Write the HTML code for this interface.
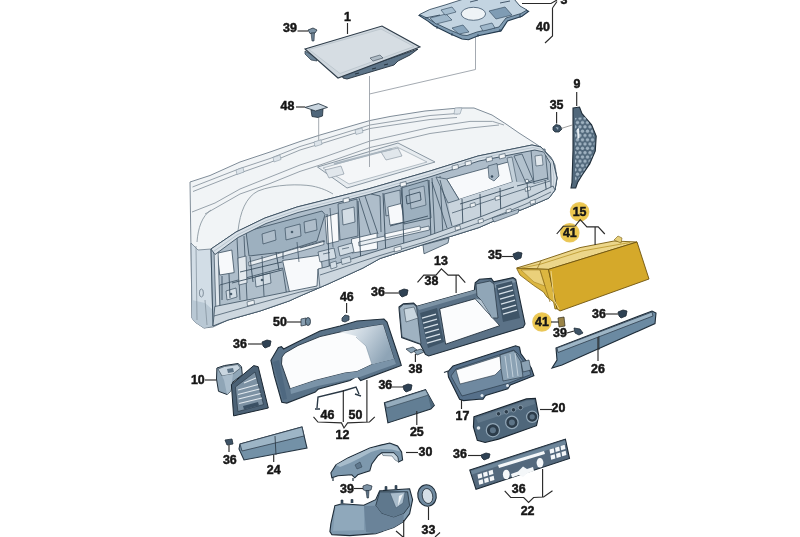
<!DOCTYPE html>
<html><head><meta charset="utf-8">
<style>
html,body{margin:0;padding:0;background:#fff;width:800px;height:537px;overflow:hidden}
svg{display:block;will-change:transform}
#wrap{width:800px;height:537px}
text{font-family:"Liberation Sans",sans-serif;font-weight:bold;font-size:12.4px;fill:#161616;stroke:#161616;stroke-width:0.5px;text-anchor:middle}
.ld{stroke:#2a2a2a;stroke-width:1.15;fill:none}
.dl{stroke:#9aa0a8;stroke-width:0.9;fill:none}
.dash{fill:#eef2f5;stroke:#8c98a2;stroke-width:1}
.dl2{fill:none;stroke:#8d99a3;stroke-width:0.9}
.int{fill:#c7d3dd;stroke:#5e7282;stroke-width:0.9}
.intl{fill:#d6dfe7;stroke:#6a7e8e;stroke-width:0.8}
.hole{fill:#f6f8fa;stroke:#5e7282;stroke-width:0.8}
.dk{fill:#7391a7;stroke:#263644;stroke-width:1.1}
.dkl{fill:#9db5c6;stroke:#2e3e4c;stroke-width:0.8}
.dkd{fill:#54708a;stroke:#22313e;stroke-width:0.8}
.wh{fill:#fbfcfd;stroke:#2e3e4c;stroke-width:0.9}
.yl{fill:#d7ab2a;stroke:#7a5e10;stroke-width:0.9}
.yll{fill:#f1e3a6;stroke:#8a7020;stroke-width:0.8}
.circ{fill:url(#cg)}
</style></head><body><div id="wrap">
<svg width="800" height="537" viewBox="0 0 800 537">
<defs><radialGradient id="cg"><stop offset="0" stop-color="#f3d468"/><stop offset="0.75" stop-color="#ecc64a"/><stop offset="1" stop-color="#e6c04a" stop-opacity="0.85"/></radialGradient></defs>

<!-- ================= DASHBOARD ================= -->
<g id="dash">
  <!-- main body -->
  <path d="M190,182 L210,175.5 L240,162 L270,152 L300,141.5 L320,135 L370,120.5 L390,116.5 L425,111 L459,108 L474,108 L492,115 L506,124 L519,133 L533,142 L542,148 L551,157 L555,165 L557,178 L555,190 L549,198 L527,207.5 L503,217 L479,227.5 L452,236 L425,244 L380,258.5 L363,268 L328,284 L300,296 L289,301 L260,311 L228,320 L213,327 L204,328 L195,322 L192,318 Z" fill="#f1f4f6" stroke="#7f8c98" stroke-width="1"/>
  <!-- rim band lines -->
  <path class="dl2" d="M192.5,187 L240,168.5 L270,158.5 L300,146.5 L320,140.5 L370,125 L430,115.5 L457,113.5"/>
  <path class="dl2" d="M193,191.5 L240,173 L270,162.5 L300,150 L320,144 L370,128.5 L430,119.5 L457,117.5"/>
  <path class="dl2" d="M192,212 L215,203 L240,189 L270,177 L300,165 L320,158.5 L370,141 L390,136.5 L430,127.4 L470,121.4 L492.5,121.4 L504,125"/>
  <path class="dl2" d="M205,214 L240,194 L270,183.5 L300,171.4 L320,165 L370,147.5 L390,143 L430,133.5 L470,128 L499,125"/>
  <path d="M456.5,108 L457,114.6" stroke="#8a96a0" stroke-width="0.8"/>
  <g fill="#dde4ea" stroke="#8a98a4" stroke-width="0.6">
    <path d="M236,170 L243,167.5 L244,172 L237,174.5 Z"/>
    <path d="M273,157.5 L280,155 L281,159.5 L274,162 Z"/>
    <path d="M314,142 L321,139.8 L322,144.3 L315,146.5 Z"/>
    <path d="M355,130 L362,128 L363,132.5 L356,134.5 Z"/>
    <path d="M455,108 L462,108 L460,114 L454,114 Z"/>
  </g>
  <!-- hood curve -->
  <path d="M238,231 C240,212 246,197 258,191 C275,184 300,184 312,186 C322,188 328,191 333,194" fill="none" stroke="#8c98a2" stroke-width="0.9"/>
  <path d="M197,242 C198,228 202,216 211,210" fill="none" stroke="#8c98a2" stroke-width="0.9"/>
  <!-- left end face -->
  <path d="M191,243 L198,250 L211,249 L213,326 L204,328 L195,322 L192,318 Z" fill="#d2dde6" stroke="#6e7e8c" stroke-width="0.8"/>
  <path d="M192,300 L205,303 L213,310 L213,326 L204,328 L195,322 L192,318 Z" fill="#b9c8d4" stroke="none"/>
  <path d="M196,246 L197,320 M205,300 L207,325" stroke="#7e8c98" stroke-width="0.7" fill="none"/>
  <ellipse cx="201.4" cy="293" rx="2" ry="4" fill="none" stroke="#6e7e8c" stroke-width="0.8"/>
  <!-- interior base -->
  <path d="M211,249 L236,232 L265,218 L297,207 L321,201 L368,189 L430,171 L478,156 L532,145 L541,147 L553,161 L557,178 L555,190 L549,198 L527,207.5 L503,217 L479,227.5 L452,236 L425,244 L380,258.5 L363,268 L328,284 L300,296 L289,301 L260,311 L228,320 L213,326 Z" fill="#aebdca" stroke="#3e5262" stroke-width="1"/>

  <!-- LEFT interior -->
  <path d="M246,231.5 L322,211 L325,214.5 L317,241 L283,252 L249,256 Z" fill="#9db0bf" stroke="#3b4f60" stroke-width="0.8"/>
  <path d="M262,234 L275,230 L276,240 L263,244 Z M285,228 L300,224 L301,236 L286,240 Z M304,222 L316,219 L317,230 L305,233 Z" fill="#aebdca" stroke="#3b4f60" stroke-width="0.7"/>
  <circle cx="292" cy="232" r="1.3" fill="#4a5e6e"/>
  <path d="M248.7,262 L323.7,240.5 L324,244.5 L249,266 Z" fill="#e9eef2" stroke="#3b4f60" stroke-width="0.7"/>
  <path d="M217.3,253.2 L231.8,250 L234.2,272.6 L219.7,275 Z" fill="#f7f9fb" stroke="#3b4f60" stroke-width="0.8"/>
  <path d="M282.6,260.5 L321,255 L323.7,284.7 L290,294.4 Z" fill="#f7f9fb" stroke="#3b4f60" stroke-width="0.8"/>
  <path d="M219.7,285 L282.6,268 L287,296.8 L219.7,306.5 Z" fill="#b0bfcb" stroke="#3b4f60" stroke-width="0.8"/>
  <path d="M226,291 L236,288 L237,297 L227,300 Z M255,277 L270,273 L271,283 L256,287 Z" fill="#d3dde5" stroke="#3b4f60" stroke-width="0.7"/>
  <circle cx="231" cy="294" r="1.3" fill="#4a5e6e"/><circle cx="262" cy="280" r="1.3" fill="#4a5e6e"/>
  <path d="M237,238 L240,300 M244,236 L247,300 M262,256 L264,296" fill="none" stroke="#3b4f60" stroke-width="0.8"/>
  <path d="M238,258 L246,256 L247,283 L239,285 Z" fill="#e3e9ee" stroke="#3b4f60" stroke-width="0.7"/>
  <path d="M214,250 L218,249 L220,313 L216,314 Z" fill="#dfe6ec" stroke="#3b4f60" stroke-width="0.7"/>

  <!-- CENTER interior -->
  <path d="M325,217 L338,213 L339,241 L327,244 Z" fill="#f7f9fb" stroke="#3b4f60" stroke-width="0.75"/>
  <path d="M338,204 L357,199 L358,236 L340,240 Z" fill="#aabac7" stroke="#3b4f60" stroke-width="0.75"/>
  <path d="M342,210 L354,207 L355,222 L343,225 Z" fill="#d3dde5" stroke="#3b4f60" stroke-width="0.7"/>
  <path d="M359,198 L371,236 M365,196 L378,234 M371,194 L380,196 L381,232" fill="none" stroke="#3b4f60" stroke-width="0.8"/>
  <path d="M351.5,239 L377,233 L377.5,249 L352,253 Z" fill="#f7f9fb" stroke="#3b4f60" stroke-width="0.75"/>
  <path d="M384,194 L400,190 L401,212 L386,216 Z" fill="#b3c2ce" stroke="#3b4f60" stroke-width="0.75"/>
  <path d="M387.8,207 L401,203.5 L404.7,222 L390,225 Z" fill="#f7f9fb" stroke="#3b4f60" stroke-width="0.75"/>
  <path d="M401,188 L428,180 L431,218 L404,224 Z" fill="#9db0bf" stroke="#3b4f60" stroke-width="0.8"/>
  <path d="M409,190 L424,186 L426,205 L411,209 Z" fill="#aebdca" stroke="#3b4f60" stroke-width="0.6"/>
  <path d="M358.7,242 L429,226 L429.5,230 L359,246 Z" fill="#e9eef2" stroke="#3b4f60" stroke-width="0.7"/>
  <path d="M384.5,234 L420,226 L420.5,230 L385,238 Z" fill="#f7f9fb" stroke="#3b4f60" stroke-width="0.6"/>
  <path d="M318,252 L334,248 L336,258 L320,262 Z M338,247 L352,243 L354,252 L340,256 Z" fill="#d3dde5" stroke="#3b4f60" stroke-width="0.7"/>
  <path d="M323,254 L330,252.5 M342,249 L349,247.5 M297,242 L299,262 M330,208 L333,247" fill="none" stroke="#3b4f60" stroke-width="0.7"/>
  <path d="M432,178 L435,238 M440,176 L443,236" fill="none" stroke="#3b4f60" stroke-width="0.8"/>

  <!-- RIGHT interior -->
  <path d="M446.6,179 L510,161.5 L514,181.5 L459,199.5 Z" fill="#f7f9fb" stroke="#3b4f60" stroke-width="0.8"/>
  <path d="M488,166 L497,163.5 L499,176 L494,181 L489,178 Z" fill="#aabac7" stroke="#3b4f60" stroke-width="0.7"/>
  <circle cx="492" cy="176.5" r="1.3" fill="#3b4f60"/>
  <path d="M514,156 L522,154 L533,180 L526,183 Z" fill="#b3c2ce" stroke="#3b4f60" stroke-width="0.75"/>
  <path d="M507,158 L512,157 L517,183 L513,185 Z" fill="#c3d0da" stroke="#3b4f60" stroke-width="0.6"/>
  <path d="M531,150 L545,149 L548,180 L534,184 Z" fill="#aebdca" stroke="#3b4f60" stroke-width="0.75"/>
  <path d="M535,156 L542,155 L543,165 L536,166 Z" fill="#e3e9ee" stroke="#3b4f60" stroke-width="0.6"/>
  <circle cx="527" cy="181" r="1.8" fill="#eef2f5" stroke="#3b4f60" stroke-width="0.7"/>
  <path d="M448,203 L459,199.5 L514,181.5 L534,184 L548,180 L553,186 L480,217 L452,226 Z" fill="#c9d4dd" stroke="none"/>
  <path d="M452,213 L515,192 L550,181" fill="none" stroke="#3b4f60" stroke-width="0.7"/>
  <g fill="#eef2f5" stroke="#3b4f60" stroke-width="0.6"><path d="M470,204 L475,202.5 L475.5,206 L470.5,207.5 Z"/><path d="M495,197 L500,195.5 L500.5,199 L495.5,200.5 Z"/><path d="M525,188 L530,186.5 L530.5,190 L525.5,191.5 Z"/></g>
  <path d="M436,177 L446.6,179 L459,199.5 L448,203 Z" fill="#b3c2ce" stroke="#3b4f60" stroke-width="0.7"/>
  <path d="M432,182 L447,228 M440,180 L452,226" fill="none" stroke="#3b4f60" stroke-width="0.8"/>

  <!-- more structure strokes -->
  <g fill="none" stroke="#3b4f60" stroke-width="0.9">
    <path d="M222,276 L222,300 M229,274 L230,298"/>
    <path d="M250,257 L253,282 M276,252 L279,270 M283,252 L283,259"/>
    <path d="M327,214 L330,282 M358,201 L361,266 M383,193 L386,256 M402,188 L404,250 M429,180 L431,240"/>
    <path d="M462,199 L463,230 M480,194 L481,224 M500,188 L501,218 M527,183 L529,204 M545,180 L547,196"/>
    <path d="M240,272 L282,262 M232,283 L282,270 M300,248 L325,241 M390,226 L428,216 M460,204 L514,187 M517,186 L548,178"/>
    <path d="M406,196 L420,192 L421,200 L407,204 Z"/>
  </g>
  <!-- lip band (top of interior frame) -->
  <path d="M211,249 L236,232 L265,218 L297,207 L321,201 L368,189 L430,171 L478,156 L532,145 L541,147 L553,161 L557,178 L555,190 L551,192 L551,179 L550.4,163.5 L543.8,152 L534.7,150 L479,161 L431,176.5 L369,194.5 L322,206.5 L298,212.5 L266,223.5 L238,237.5 L215,254.5 Z" fill="#d9e1e8" stroke="#3b4f60" stroke-width="0.9"/>
  <path d="M213.5,251.5 L237,235 L265.5,221 L297.5,210 L321.5,204 L368.5,192 L430.5,174 L478.5,158.5 L533,147.5 L542,149.5 L551.5,162 L554,178 L553,190" fill="none" stroke="#a3b3c0" stroke-width="0.6"/>
  <!-- small tabs on lip -->
  <g fill="#f1f4f6" stroke="#3b4f60" stroke-width="0.6">
    <path d="M452,166 L458,164.5 L458.5,168.5 L452.5,170 Z"/><path d="M465,162 L471,160.5 L471.5,164.5 L465.5,166 Z"/>
    <path d="M486,158 L492,156.5 L492.5,160.5 L486.5,162 Z"/><path d="M499,155 L505,153.5 L505.5,157.5 L499.5,159 Z"/>
    <path d="M343,199 L349,197.5 L349.5,201.5 L343.5,203 Z"/><path d="M400,183 L406,181.5 L406.5,185.5 L400.5,187 Z"/>
  </g>

  <!-- lower beam -->
  <path d="M214.8,306.5 L287,292 L317,286 L318,269 L326,267 L380,250 L425,237 L480,217 L503,208 L527,198.5 L553,186 L555,190 L549,198 L527,207.5 L503,217 L479,227.5 L452,236 L425,244 L380,258.5 L363,268 L328,284 L300,296 L289,301 L260,311 L228,320 L213,326 Z" fill="#cdd7df" stroke="#3b4f60" stroke-width="0.8"/>
  <path d="M214,316 L260,303 L300,292 L318,288 M320,275 L380,255.5 L425,242 L480,222.5 L503,213.5 L527,203.5 L551,192 M318,269 L320,288" fill="none" stroke="#3b4f60" stroke-width="0.7"/>
  <path d="M330,263 L336,261 L337,267 L331,269 Z M341,259 L350,256.5 L351,262 L342,264.5 Z" fill="#d3dde5" stroke="#3b4f60" stroke-width="0.6"/>
  <g fill="#eef2f5" stroke="#3b4f60" stroke-width="0.6">
    <path d="M455,227 L460,225.5 L460.5,229 L455.5,230.5 Z"/><path d="M478,220 L483,218.5 L483.5,222 L478.5,223.5 Z"/>
    <path d="M506,210 L511,208.5 L511.5,212 L506.5,213.5 Z"/><path d="M530,201 L535,199.5 L535.5,203 L530.5,204.5 Z"/>
    <path d="M247,302 L254,300 L254.5,304 L247.5,306 Z"/><path d="M394,248 L401,246 L401.5,250 L394.5,252 Z"/>
  </g>
  <!-- hanging tabs under bottom -->
  <path d="M423,245 L449,238 L448,243 L424,253.8 Z" fill="#b3c1cd" stroke="#3b4f60" stroke-width="0.8"/>
  <path d="M492,218 L519,209 L518,213 L494,222 Z" fill="#b3c1cd" stroke="#3b4f60" stroke-width="0.7"/>

  <!-- display recess -->
  <path d="M317.5,167 L398,143 L435,162 L347,188 Z" fill="#e7ecf0" stroke="#7e8c98" stroke-width="0.9"/>
  <path d="M323,168 L397,147 L427,162 L349,184 Z" fill="#f4f6f8" stroke="#9aa6b0" stroke-width="0.7"/>
  <path d="M325,170 L341,166 L344,174 L329,178 Z" fill="#e1e7ec" stroke="#7e8c98" stroke-width="0.6"/>
  <path d="M381,152 L398,148 L402,156 L386,160 Z" fill="#e1e7ec" stroke="#7e8c98" stroke-width="0.6"/>
  <path d="M334,164 L392,149" stroke="#a8b4be" stroke-width="2" fill="none"/>
</g>

<!-- dashed leader lines -->
<path class="dl" d="M369.5,76 L369.5,167"/>
<path class="dl" d="M369.5,94 L475.5,69.5 L475.5,33"/>
<path class="dl" d="M318.7,118 L318.7,140"/>

<!-- ============== PART 1 lid ============== -->
<path d="M305,51 L316,57 L317,61 L311,60 L305,54 Z" fill="#6f8699" stroke="#2a3845" stroke-width="0.7"/>
<path d="M342,75 L418,49 L410,55 L406,57 L398,61 L394,65 L347,79 L343,78 Z" fill="#5d7488" stroke="#24313d" stroke-width="0.9"/>
<path d="M305,49 L382,26 L420,47 L338,78 Z" fill="#cfd7de" stroke="#2f3d4a" stroke-width="1.1"/>
<path d="M309,49.5 L381,29 L414,46.5 L340,73.5 Z" fill="#d6dde3" stroke="#a9b4bd" stroke-width="0.5"/>
<path d="M370,58 L380,55 L383,58 L373,61 Z" fill="#b0bcc6" stroke="#3a4856" stroke-width="0.6"/>
<path d="M355,74 L359,73 M372,69 L376,68 M384,65 L388,64" stroke="#24313d" stroke-width="1" fill="none"/>
<path class="ld" d="M347.5,23 L347.5,34"/>
<text x="347.5" y="21">1</text>
<!-- screw 39 -->
<path d="M308,30 L313,28 L317,30 L315,33 L310,33.5 Z" fill="#7d93a5" stroke="#26323e" stroke-width="0.8"/>
<path d="M311,33 L314.5,33 L314,41 L312,41 Z" fill="#6a7f91" stroke="#26323e" stroke-width="0.6"/>
<path class="ld" d="M297.5,31 L308,31"/>
<text x="290" y="32">39</text>

<!-- ============== PART 3 bracket ============== -->
<path d="M419,15.4 L429.5,10.6 L445,6 L463.6,0 L514,0 L520.5,7.3 L528.6,11.4 L522,16.3 L507.5,21 L501,30.9 L478.2,35.7 L468.5,39.8 L462,39 L450.6,34.1 L434.4,26 L427.9,21.1 Z" fill="#7f9bb2" stroke="#243a4e" stroke-width="1.1"/>
<path d="M419.5,14.5 L429.5,9.6 L445,5 L463.6,-1 L514,-1 L520,6 L527,10 L521,13.5 L506,18 L499,27 L477,32 L467,35.5 L462,35 L451,30.5 L435,23 L428,18.5 Z" fill="#c3d4e1" stroke="#2c4256" stroke-width="0.8"/>
<path d="M430,18 L446,14 L452,20 L436,24 Z" fill="#9fb7ca" stroke="#2c4256" stroke-width="0.6"/>
<path d="M452,28 L463,25 L469,32 L459,34 Z" fill="#8aa6bd" stroke="#2c4256" stroke-width="0.6"/>
<path d="M489,11 L505,7 L512,15 L496,19 Z" fill="#7f9cb4" stroke="#2c4256" stroke-width="0.6"/>
<path d="M441,10 L452,7 L456,12 L445,15 Z" fill="#a6bed0" stroke="#2c4256" stroke-width="0.6"/>
<path d="M480,26 L492,23 L495,28 L483,31 Z" fill="#9fb7ca" stroke="#2c4256" stroke-width="0.6"/>
<ellipse cx="473.4" cy="13.8" rx="12.2" ry="6.5" fill="#eef3f6" stroke="#3a5268" stroke-width="0.8"/>
<path d="M470,2 L478,0 M500,3 L510,1 M425,18 L440,15 M437,26 L437,29 M452,33 L452,36 M478,34 L478,37 M500,29 L500,32 M520,14 L520,18" fill="none" stroke="#243a4e" stroke-width="0.8"/>
<path class="ld" d="M522,3.5 L551,3.5 L557,0 M552.5,8 L557,1.5 M552.5,8 L552.5,36 L545,43"/>
<text x="564" y="4">3</text>
<text x="543" y="30.8">40</text>

<!-- ============== 48 clip ============== -->
<path d="M311,110 L323,109 L322.5,116 L318,117.5 L312,116.5 Z" fill="#4f667a" stroke="#1f2d39" stroke-width="0.8"/>
<path d="M305,107.4 L318.5,103.6 L327.5,107.4 L315.5,111 Z" fill="#c9d5df" stroke="#2e3d4a" stroke-width="0.9"/>
<path class="ld" d="M296,107 L305,107"/>
<text x="287.5" y="109.8">48</text>

<!-- ============== PART 9 + 35 ============== -->
<defs>
<pattern id="hex" x="0" y="0" width="5" height="8.6" patternUnits="userSpaceOnUse">
<circle cx="2.5" cy="2.15" r="1.7" fill="#9fb2c1"/><circle cx="0" cy="6.45" r="1.7" fill="#9fb2c1"/><circle cx="5" cy="6.45" r="1.7" fill="#9fb2c1"/>
</pattern>
<clipPath id="c9"><path d="M575,118 L585,117 L592,127 L595,140 L593,155 L586,168 L578,180 L575,182 Z"/></clipPath>
</defs>
<path d="M573,108 L579.5,107 L582,113.6 L591.6,124.8 L596.2,136 L595.3,150.9 L589.7,163.9 L582.2,175 L577.6,182.5 L575.7,188 L571,188 L572,182.5 L573,150 Z" fill="#51687b" stroke="#1f2d39" stroke-width="1.1"/>
<rect x="570" y="110" width="30" height="80" fill="url(#hex)" clip-path="url(#c9)"/>
<path d="M577,129 L579,128 L579.5,138 L577.5,139 Z" fill="#e6edf2"/>
<path class="ld" d="M576.7,92 L576.7,106"/>
<text x="577" y="88.2">9</text>
<path d="M553,127 L556,124.5 L560,125.5 L562,129 L559,132 L555,132 L553,130 Z" fill="#3e5366" stroke="#1f2d39" stroke-width="0.8"/>
<path d="M555.5,127 L558.5,127.5 L558,130 Z" fill="#9fb2c1"/>
<path class="ld" d="M556.6,112 L556.6,123.5"/>
<path d="M561,128.5 L573,124.8" stroke="#777" stroke-width="0.7"/>
<text x="556.6" y="108.8">35</text>

<!-- ============== GLOVEBOX 15 ============== -->
<path d="M516.7,268 L540,261 L580,247.6 L614,241 L637,242 L600,253.5 L548.5,269.4 Z" fill="#ecd68a" stroke="#7a5e10" stroke-width="0.9"/>
<path d="M522,268 L541,264 L582,251 L630,242.5" fill="none" stroke="#b8942a" stroke-width="0.8"/>
<path d="M516.7,268.5 L548.5,269.4 L557,308.8 L555,309 L553.6,302 L546.9,297 L543.5,292 L533.5,285.3 L520,275 Z" fill="#dcb640" stroke="#7a5e10" stroke-width="0.8"/>
<path d="M521,270 L540,270 L545,286 L534,282 Z" fill="#ead07a" stroke="#9a7a20" stroke-width="0.5"/>
<path d="M537,269 L541,261 M540,270 L550,302" stroke="#8a6a18" stroke-width="0.7" fill="none"/>
<path d="M548.5,269.4 L637,242 L649,279 L560,311 L557,308.8 Z" fill="#d5a92a" stroke="#6e540e" stroke-width="0.9"/>
<path d="M551,271 L554,300 L559,309" fill="none" stroke="#edd68a" stroke-width="1"/>
<path d="M614,240 L618,236 L622,238 L621,243 Z" fill="#e6cf7a" stroke="#7a5e10" stroke-width="0.6"/>
<circle class="circ" cx="579.6" cy="211.8" r="9.8"/>
<circle class="circ" cx="569.8" cy="232.7" r="9.8"/>
<text x="579.6" y="215.7">15</text>
<text x="569.8" y="236.6">41</text>
<path class="ld" d="M556.7,234 L563.3,226.3 L575.1,226 L580.2,219.6 L586.9,226.8 L598.2,226.8 L604.8,234 M595.1,226.8 L595.1,245"/>

<!-- 35 screw mid -->
<path d="M513,254 L518,252 L522,253 L521,258 L516,260 L514,258 Z" fill="#2f4254" stroke="#1a2631" stroke-width="0.8"/>
<path class="ld" d="M502,256.5 L513,256.5"/>
<text x="495" y="259.1">35</text>

<!-- lower 41/39/36 near glovebox -->
<circle class="circ" cx="541.9" cy="322" r="9.8"/>
<text x="541.9" y="325.9">41</text>
<path class="ld" d="M551,322 L559,322"/>
<path d="M558,318 L564,317 L565,326 L559,327 Z" fill="#9a8448" stroke="#2f2a1a" stroke-width="0.7"/>
<path d="M574,328 L580,329 L583,333 L579,335 L575,333 Z" fill="#3e5366" stroke="#1f2d39" stroke-width="0.8"/>
<path class="ld" d="M567,333 L574,331"/>
<text x="560" y="337">39</text>
<path d="M618,312 L623,310 L627,311 L626,316 L621,318 L619,316 Z" fill="#2f4254" stroke="#1a2631" stroke-width="0.8"/>
<path class="ld" d="M606,314 L618,314"/>
<text x="599" y="317.5">36</text>

<!-- ============== PART 26 strip ============== -->
<path d="M556,348 L652,311 L656,313 L655,323.6 L562,365 L552,368 L557,360 Z" fill="#6b8aa2" stroke="#1f2d39" stroke-width="1.1"/>
<path class="dkl" d="M557,348 L652,312 L653,316 L558,352.5 Z"/>
<path d="M599,336 L599,350" stroke="#26323e" stroke-width="0.8"/>
<path class="ld" d="M598,337 L598,361"/>
<text x="598" y="373">26</text>

<!-- ============== PART 13 display frame ============== -->
<path d="M399,307 L403.4,303.7 L413.6,303 L417,306.3 L474.3,290.2 L475.2,282.7 L479.4,279.3 L491.2,278.4 L493.7,281.8 L513,277.6 L515.7,279.3 L525,324 L523.2,327.4 L428.7,356 L425.4,354.4 L420.3,344.2 L401.7,337.5 L399.2,310.5 Z" fill="#5b7287" stroke="#1f2d39" stroke-width="1.1"/>
<path d="M399.5,308 L403.4,304.5 L413.6,304 L416.5,307 L421,344 L402,337 Z" fill="#9fb2c1" stroke="#2a3a48" stroke-width="0.7"/>
<path d="M404,309 L414,307 L418,318 L406,322 Z" fill="#c9d6df" stroke="#2a3a48" stroke-width="0.5"/>
<path d="M417,306.3 L474.3,290.2 L513,279 L516,282 L477,293 L419,310 Z" fill="#7d93a5" stroke="none"/>
<path d="M439.7,308.8 L475.2,298.7 L499.6,325.7 L445.6,344.2 Z" fill="#fbfcfd" stroke="#22313e" stroke-width="0.9"/>
<path d="M476,284 L490,281 L494,284 L498,318 L492,318 L481,300 L477,296 Z" fill="#90a6b7" stroke="#22313e" stroke-width="0.7"/>
<path d="M475.5,298.5 L481,300 L492,318 L499.6,325.7 Z" fill="#b8c7d3"/>
<path d="M420,313 L437,308 L444,342 L428,348 Z" fill="#3f5568"/>
<path d="M496,285 L512,281 L520,318 L503,322 Z" fill="#3f5568"/>
<g stroke="#d6e0e8" stroke-width="1.3" fill="none">
<path d="M422,318 L436,314 M423,323 L437,319 M424,328 L438,324 M425,333 L439,329 M426,338 L440,334 M427,343 L441,339"/>
<path d="M498,289 L512,285 M499,294 L513,290 M500,299 L514,295 M501,304 L515,300 M502,309 L516,305 M503,314 L517,310"/>
</g>
<path class="ld" d="M417.5,282.3 L423.8,275.1 L436,275.1 L441.4,268.9 L448.1,275.1 L458.6,275.1 L465.3,282.7 M456.1,275.1 L456.1,293"/>
<text x="441" y="265">13</text>
<text x="431.4" y="284.8">38</text>
<!-- 38 clip lower -->
<path d="M406,349 L413,347 L417,350 L411,353 Z" fill="#8aa2b4" stroke="#26323e" stroke-width="0.7"/>
<path d="M414,351 L421,349 L424,352 L417,355 Z" fill="#8aa2b4" stroke="#26323e" stroke-width="0.7"/>
<path class="ld" d="M415.4,354 L415.4,362"/>
<text x="415.4" y="372.5">38</text>
<!-- 36 screw mid -->
<path d="M399,291 L404,289 L408,290 L407,295 L402,297 L400,295 Z" fill="#2f4254" stroke="#1a2631" stroke-width="0.8"/>
<path class="ld" d="M385,293 L399,293"/>
<text x="378" y="295.8">36</text>

<!-- ============== PART 17 ============== -->
<path d="M453,366 L515.6,345.8 L519.5,347.1 L520.8,353.6 L531.3,368 L533.9,375.8 L510.4,385 L507.8,388.8 L485.6,395.4 L483,399.3 L479,399.3 L463.5,400.6 L459.6,399.3 L448.5,377.1 L447.8,371.9 Z" fill="#56708a" stroke="#1b2935" stroke-width="1.1"/>
<path d="M456,369 L514,350 L518,354 L529,369 L531,374.5 L509,383 L462,396 L451,376 Z" fill="#6f89a0" stroke="#22313e" stroke-width="0.6"/>
<path d="M456,370 L500,356 L502,368 L495,375 L460,384 Z" fill="#fbfcfd" stroke="#22313e" stroke-width="0.6"/>
<path d="M500,355 L514,350.5 L521,362 L523,377 L503,381 L501,369 Z" fill="#8ba2b4" stroke="#22313e" stroke-width="0.6"/>
<path d="M505,356 L508,378 M510,354 L513,377 M515,353 L518,376" stroke="#c2d0db" stroke-width="1" fill="none"/>
<path d="M521,362 L529,360 L531,370 L523,372 Z" fill="#8ba2b4" stroke="#22313e" stroke-width="0.6"/>
<path d="M448,371 L444,372.5" stroke="#22313e" stroke-width="1.3"/>
<circle cx="482" cy="395.5" r="1.5" fill="#dfe7ee"/><circle cx="507.5" cy="385.5" r="1.5" fill="#dfe7ee"/>
<path class="ld" d="M461.5,400 L461.5,409"/>
<text x="462.4" y="420">17</text>

<!-- ============== PART 20 ============== -->
<path d="M473.9,416.8 L526.4,398.9 L535.4,398.4 L538.7,415.7 L536.5,425.7 L498.5,439.1 L485.1,442.5 L477.3,440.3 L473.4,426.9 Z" fill="#4f677b" stroke="#1a2631" stroke-width="1.1"/>
<path d="M476,418 L527,400.5 L534,400 L535,404 L478,423 Z" fill="#62798c" stroke="none"/>
<g fill="#2c3c4a" stroke="#93a8b8" stroke-width="1.2">
<circle cx="492.9" cy="430.2" r="6.6"/>
<circle cx="511.9" cy="422.4" r="6.2"/>
<circle cx="532.2" cy="416.8" r="5.6"/>
</g>
<g fill="#5d7487" stroke="none">
<circle cx="492.9" cy="430.2" r="3"/><circle cx="511.9" cy="422.4" r="3"/><circle cx="532.2" cy="416.8" r="2.6"/>
</g>
<g fill="#2c3c4a" stroke="#93a8b8" stroke-width="0.7">
<circle cx="498.5" cy="413.8" r="2.2"/><circle cx="506.3" cy="411.8" r="2.2"/><circle cx="513.5" cy="409.8" r="2.2"/><circle cx="520.5" cy="407.6" r="2.2"/>
</g>
<circle cx="478.5" cy="428" r="1.8" fill="#dfe7ee"/>
<path class="ld" d="M540,409.5 L552,409.5"/>
<text x="558.5" y="412">20</text>

<!-- ============== PART 22 ============== -->
<path d="M469.8,470.1 L565.4,439.1 L569.5,458.4 L476,489.3 Z" fill="#54697d" stroke="#1b2935" stroke-width="1.1"/>
<path d="M471,471 L565,440.5 L566,444 L472,474.5 Z" fill="#6d869a" stroke="none"/>
<g fill="#f4f7f9">
<path d="M477.5,474.5 l4.2,-1.3 l0.7,4.2 l-4.2,1.3 Z"/><path d="M483,472.8 l4.2,-1.3 l0.7,4.2 l-4.2,1.3 Z"/><path d="M488.5,471.1 l4.2,-1.3 l0.7,4.2 l-4.2,1.3 Z"/>
<path d="M478.5,480.5 l4.2,-1.3 l0.7,4.2 l-4.2,1.3 Z"/><path d="M484,478.8 l4.2,-1.3 l0.7,4.2 l-4.2,1.3 Z"/><path d="M489.5,477.1 l4.2,-1.3 l0.7,4.2 l-4.2,1.3 Z"/>
<path d="M549.5,449.5 l4.2,-1.3 l0.7,4.2 l-4.2,1.3 Z"/><path d="M555,447.8 l4.2,-1.3 l0.7,4.2 l-4.2,1.3 Z"/><path d="M560.5,446.1 l4.2,-1.3 l0.7,4.2 l-4.2,1.3 Z"/>
<path d="M550.5,455.5 l4.2,-1.3 l0.7,4.2 l-4.2,1.3 Z"/><path d="M556,453.8 l4.2,-1.3 l0.7,4.2 l-4.2,1.3 Z"/><path d="M561.5,452.1 l4.2,-1.3 l0.7,4.2 l-4.2,1.3 Z"/>
<path d="M498,465 L544,451 L545,454 L499,468 Z"/>
<path d="M511,474 L518,471.5 L523,466.5 L527,469 L533,467 L534,471 L527,473.5 L523,477 L519,475 L512,477.5 Z"/>
</g>
<ellipse cx="506.3" cy="474.5" rx="3.4" ry="4.8" fill="#f4f7f9"/>
<ellipse cx="540" cy="462.8" rx="3.4" ry="4.8" fill="#f4f7f9"/>
<path d="M481,455 L486,453 L490,454 L489,458 L484,460 L482,458 Z" fill="#2f4254" stroke="#1a2631" stroke-width="0.8"/>
<path class="ld" d="M468,455.5 L481,455.5"/>
<text x="460" y="458">36</text>
<text x="518.7" y="492.8">36</text>
<path class="ld" d="M504.7,490.8 L510.7,497.5 L523.7,497.5 L528.6,502.5 L533.6,497.5 L543.6,497 L552.5,490.8 M542.6,469 L542.6,497"/>
<text x="527.6" y="514.7">22</text>

<!-- ============== PART 12 cluster ============== -->
<defs>
<linearGradient id="visor" x1="0" y1="0" x2="1" y2="0.3">
<stop offset="0" stop-color="#e6edf2"/><stop offset="0.5" stop-color="#aebfcc"/><stop offset="1" stop-color="#7f97aa"/>
</linearGradient>
</defs>
<linearGradient id="vis2" x1="0" y1="0" x2="1" y2="0.5"><stop offset="0" stop-color="#f4f7f9"/><stop offset="0.45" stop-color="#c9d5df"/><stop offset="1" stop-color="#8ea4b6"/></linearGradient>
<path d="M278.4,347.5 L281.4,346.7 L283.6,349 L298,341.7 L320,331 L340,326 L357,321 L384,319 L387,322 L400,361 L401.3,365.4 L360.6,380.5 L357,376 L350,380.5 L318,389.3 L315.3,392.1 L286.8,403.1 L281.8,402.2 L274.2,375.4 L270.9,360.3 Z" fill="#5a7389" stroke="#1f2d39" stroke-width="1.1"/>
<path d="M273,362 L279,360 L287,399 L283,400 Z" fill="#46607a" opacity="0.6"/>
<path d="M281.5,364 L282,357 L285,353 L298,345.5 L320,336.6 L340,332 L357,329 L370,326.5 L383,324.5 L394,359 L372,364.5 L357,371.6 L345,373 L315.3,380.4 L290.2,388.8 Z" fill="#fbfcfd" stroke="#22313e" stroke-width="0.9"/>
<path d="M340,332 L357,329 L370,326.5 L383,324.5 L394,359 L372,364.5 L366,346 L356,336 Z" fill="url(#vis2)" stroke="none"/>
<path d="M356,337 L366,346 L372,364.5" fill="none" stroke="#7d93a5" stroke-width="0.6"/>
<path d="M290.2,388.8 L315.3,380.4 L345,373 L357,371.6 L372,364.5 L394,359 L396,364 L360,377 L318,386 L291,394 Z" fill="#7a93a8" stroke="none"/>
<path d="M317,408 L318,397 L343,391 L356,387 L359,394" fill="none" stroke="#2a3845" stroke-width="1.4"/>
<path d="M315,409 L320,409 M355,394 L361,396" stroke="#2a3845" stroke-width="1.4"/>
<path class="ld" d="M313.5,416.8 L317.9,422 L341.5,422.9 L344,428 L347.6,422.9 L369.5,422 L374.8,416.8 M343.3,390 L343.3,422 M366.9,380 L366.9,422"/>
<text x="327.5" y="418.6">46</text>
<text x="355.5" y="418.6">50</text>
<text x="342.4" y="439">12</text>
<!-- 46 nut top -->
<path d="M342,318 L345,315 L349,316 L349,320 L345,322 L342,321 Z" fill="#4d6478" stroke="#26323e" stroke-width="0.8"/>
<path class="ld" d="M346.6,303 L346.6,313"/>
<text x="346.8" y="300.6">46</text>
<!-- 50 screw -->
<path d="M301,319 L306,318 L306,325 L301,326 Z" fill="#8aa0b2" stroke="#26323e" stroke-width="0.7"/>
<ellipse cx="308" cy="321.5" rx="2.5" ry="4" fill="#6f8a9e" stroke="#26323e" stroke-width="0.8"/>
<path class="ld" d="M287,322 L301,322"/>
<text x="280" y="326">50</text>
<!-- 36 left -->
<path d="M262,342 L267,340 L271,341 L270,346 L265,348 L263,346 Z" fill="#2f4254" stroke="#1a2631" stroke-width="0.8"/>
<path class="ld" d="M248,344 L262,344"/>
<text x="240" y="347.5">36</text>

<!-- ============== PART 10 vent ============== -->
<path d="M216.9,368 L224.5,365.5 L238,363.5 L241.5,366.7 L242.3,374.7 L231.8,382.9 L230.6,391.3 L227,394.5 L218.5,391.3 L216.5,379 Z" fill="#8fa5b6" stroke="#1f2d39" stroke-width="1"/>
<path d="M218,369 L224.5,366.5 L237.5,364.5 L240.5,368 L233,374 L222,376 Z" fill="#c9d6e0" stroke="#2e3e4c" stroke-width="0.6"/>
<path d="M227,369 L233,368 L234,372 L228,373 Z" fill="#5d7487"/>
<path d="M222,376 L233,374 L231.8,382.9 L230.6,391.3 L227,394.5 L224,380 Z" fill="#a9bccb" stroke="none"/>
<path d="M231.4,384.6 L253.7,365.6 L258.2,366.7 L268.3,408 L233.6,415.9 Z" fill="#4c6276" stroke="#1a2631" stroke-width="1"/>
<path d="M235.4,387 L255,372 L263.5,404.5 L237.9,411.5 Z" fill="#7d92a4" stroke="#22313e" stroke-width="0.6"/>
<g stroke="#e2e9ef" stroke-width="1.2" fill="none">
<path d="M244,383 L256,378 M238,390 L258,384.5 M238,394.5 L259.5,389 M238.5,399 L260.5,393.5 M239,403.5 L262,398"/>
</g>
<path d="M243,406 L258,402 L259,405.5 L244,409.5 Z" fill="#3a5064"/>
<path class="ld" d="M205,380 L216.5,380"/>
<text x="197.8" y="383.5">10</text>

<!-- ============== PART 25 ============== -->
<path d="M384.4,402.8 L425.5,389.6 L434.3,405.4 L430.8,408.9 L387.9,422.9 Z" fill="#627e94" stroke="#1f2d39" stroke-width="1.1"/>
<path d="M384.8,403 L425.5,390 L428.5,395 L386.5,408 Z" fill="#95acbd" stroke="#2e3e4c" stroke-width="0.6"/>
<path d="M426,391 L434,405 L431,408 L428,396 Z" fill="#4d667a"/>
<path d="M403,386 L408,384 L412,385 L411,390 L406,392 L404,390 Z" fill="#2f4254" stroke="#1a2631" stroke-width="0.8"/>
<path class="ld" d="M392,387 L403,387 M416.8,411 L416.8,425"/>
<text x="385.3" y="389.2">36</text>
<text x="416.8" y="435.5">25</text>

<!-- ============== PART 24 ============== -->
<path class="dk" d="M240,444 L302,427 L307,448 L244,460 L239,449 Z"/>
<path class="dkl" d="M240,444 L302,427 L304,436 L242,451 Z"/>
<path d="M275,436 L276,455" stroke="#26323e" stroke-width="0.8"/>
<path d="M225,440 L232,439 L233,444 L227,445 Z" fill="#3e5366" stroke="#1f2d39" stroke-width="0.8"/>
<path class="ld" d="M229,445 L229,452 M273.7,455 L273.7,462"/>
<text x="229.8" y="464.3">36</text>
<text x="273.7" y="474.3">24</text>

<!-- ============== PART 30 ============== -->
<path d="M331.9,477.8 L330.9,472.8 L335.9,464.9 L347.8,457.9 L369.8,447.9 L381.7,444.9 L389.7,443 L397.6,446 L401.6,451.9 L402.6,459.9 L398.6,461.9 L397.6,456.9 L393.7,452.9 L381.7,452.9 L377.7,455.9 L371.8,463.9 L369.8,470.8 L363.8,472.8 L357.8,474.8 L354.8,477.8 L351.8,474.8 L337.9,475.8 Z" fill="#7d98ad" stroke="#1f2d39" stroke-width="1.1"/>
<path d="M336,465 L348,458.5 L370,448.5 L389.7,444 L397,447 L400,451.5 L392,449.5 L381,449 L371,452 L360,458 L350,463 L340,467 Z" fill="#a7bccb" stroke="none"/>
<path d="M381.7,452.9 L393.7,452.9 L397.6,456.9 L398.6,461.9 L395,460 L392,456 L383,455.5 Z" fill="#c8d6e0" stroke="#2e3e4c" stroke-width="0.5"/>
<path d="M333,478 L333,481 M353,478 L353,481" stroke="#1f2d39" stroke-width="1.2"/>
<path d="M355,465 L360,462 L362,467 L357,469 Z" fill="#5f788d" stroke="#2e3e4c" stroke-width="0.5"/>
<path class="ld" d="M406,452.5 L418,452.5"/>
<text x="425.5" y="455.8">30</text>

<!-- ============== 39 screw bottom, lower cover, 33 ============== -->
<path d="M363,486 L367,484.5 L372,486 L371,490 L366,491 L363,489.5 Z" fill="#7d93a5" stroke="#1f2d39" stroke-width="0.7"/>
<path d="M366,490.5 L369,490.5 L368.5,498 L367,498 Z" fill="#5a7084" stroke="#1f2d39" stroke-width="0.6"/>
<path class="ld" d="M354,488.5 L363,488.5"/>
<text x="346.9" y="492.8">39</text>
<path d="M329.9,531.6 L330.9,523.6 L334.9,505.7 L341.9,503.7 L363.8,505.3 L375.7,499.7 L379.7,490.8 L409.6,488.8 L412.6,499.7 L409.6,513.7 L403.6,521.6 L393.7,527.6 L375.7,533.6 L349.8,535.6 L331.9,534.6 Z" fill="#7f99ae" stroke="#1f2d39" stroke-width="1.1"/>
<path d="M335.5,506 L364,506 L364,530 L333,531 Z" fill="#8fa8bb" stroke="none"/>
<path d="M379.7,491.8 L407.6,491.8 L409.6,505.7 L403.6,513.7 L393.7,517.6 L381.7,513.7 L375.7,505.7 Z" fill="#5f788d" stroke="#22313e" stroke-width="0.8"/>
<path d="M390,493 L405,492 L403,503 L396,508 Z" fill="#a9bccb" stroke="#3a5064" stroke-width="0.5"/><path d="M399,496 L403,494 L398,506 Z" fill="#eef3f6"/>
<path d="M364,506 L375.7,505.7 L381.7,513.7 L393.7,517.6 L403.6,513.7 L403.6,521.6 L393.7,527.6 L375.7,533.6 L366,532 Z" fill="#6a8399" stroke="none"/>
<path d="M341,503.5 L341,500 L343,500 L343,503.5 M351,503 L351,499.5 L353,499.5 L353,503 M385,490 L385,486.5 L387,486.5 L387,490 M395,489 L395,485.5 L397,485.5 L397,489" fill="#3a5064" stroke="#1f2d39" stroke-width="0.6"/>
<ellipse cx="427" cy="495.5" rx="9.2" ry="10.8" transform="rotate(-12 427 495.5)" fill="#6f8aa0" stroke="#1f2d39" stroke-width="1.1"/>
<ellipse cx="427.5" cy="496" rx="5.2" ry="7.6" transform="rotate(-12 427.5 496)" fill="#d5dfe7" stroke="#26323e" stroke-width="0.8"/>
<path class="ld" d="M428.5,507 L428.5,520"/>
<text x="428.5" y="533.5">33</text>
<path class="ld" d="M396,531 L403,537 M403.7,520 L403.7,537 M440,532.5 L435,537"/>

</svg></div>
</body></html>
